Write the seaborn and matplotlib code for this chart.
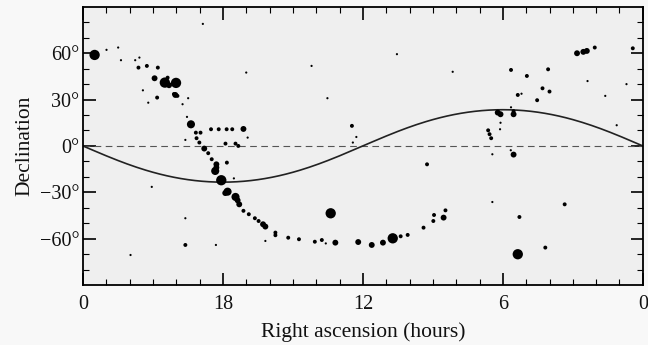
import numpy as np
import pandas as pd
import matplotlib
matplotlib.use("Agg")
import matplotlib.pyplot as plt
import seaborn as sns

# ---- data (right ascension in hours, declination in degrees, brightness class 1-5)
ra = [23.5, 22.99, 22.49, 22.37, 21.76, 21.58, 21.62, 21.26, 20.79, 20.93,
      20.49, 20.37, 20.31, 20.01, 20.04, 20.10, 19.95, 20.82, 21.43, 21.2,
      19.73, 19.49, 19.54, 19.37, 19.16, 18.96, 19.13, 19.61, 19.01, 18.8,
      18.63, 18.51, 18.18, 17.84, 17.6, 17.12, 16.94, 17.46, 17.34, 17.89,
      17.83, 18.48, 18.28, 18.33, 18.28, 18.07, 17.8, 17.9, 17.46, 17.37,
      17.3, 17.12, 16.89, 16.63, 16.47, 16.28, 16.18, 15.75, 15.75, 16.18,
      15.2, 14.74, 14.06, 13.76, 13.59, 13.18, 13.38, 12.2, 11.62, 11.14,
      10.72, 10.38, 10.08, 9.4, 8.98, 8.95, 8.54, 8.46, 12.47, 12.28,
      12.43, 9.25, 8.15, 6.45, 6.22, 6.1, 6.63, 6.57, 6.5, 6.12,
      6.1, 6.45, 5.54, 5.54, 5.65, 5.66, 5.54, 5.65, 4.97, 5.36,
      5.2, 4.3, 4.0, 4.06, 4.53, 5.29, 5.36, 4.18, 3.35, 2.82,
      2.55, 2.4, 2.06, 0.43, 2.37, 1.61, 1.12, 0.7, 17.0, 14.2,
      13.52, 18.86, 19.61, 19.61, 18.3, 21.96, 21.05, 17.53, 10.54]
dec = [58.9, 62.2, 63.7, 55.5, 55.5, 57.2, 50.7, 51.8, 50.7, 43.8,
       41.0, 44.2, 39.3, 40.8, 33.0, 33.6, 32.4, 31.3, 36.0, 28.0,
       27.0, 30.9, 18.8, 14.0, 8.6, 8.6, 5.0, 3.9, 2.2, -1.7,
       -4.7, 10.8, 10.8, 10.8, 10.8, 11.0, 5.4, 1.5, 0.0, 1.5,
       -10.8, -8.6, -11.9, -16.2, -14.0, -22.2, -29.6, -30.5, -33.0, -35.2,
       -37.8, -42.0, -44.2, -46.8, -48.6, -50.7, -52.2, -56.1, -57.8, -61.5,
       -59.4, -60.4, -62.0, -60.9, -63.1, -62.6, -43.6, -62.2, -64.1, -62.6,
       -59.8, -58.5, -57.6, -52.9, -48.6, -44.7, -46.4, -41.7, 13.0, 5.8,
       2.2, -11.9, 48.0, -36.3, 21.6, 20.5, 10.1, 7.6, 5.0, 10.8,
       15.0, -5.4, 20.5, 22.5, 25.0, -2.8, -5.6, 49.2, 45.3, 33.0,
       33.8, 37.3, 35.2, 49.6, 29.6, -46.0, -70.1, -65.8, -37.8, 60.0,
       60.9, 61.5, 63.7, 63.2, 42.0, 32.4, 13.4, 40.0, 47.5, 51.8,
       30.9, 79.0, -46.8, -64.1, -64.1, -70.6, -26.5, -21.0, 59.4]
brightness = [5, 1, 1, 1, 1, 1, 2, 2, 2, 3,
              5, 2, 3, 5, 3, 2, 2, 2, 1, 1,
              1, 1, 1, 4, 2, 2, 2, 1, 2, 3,
              2, 2, 2, 2, 2, 3, 1, 2, 2, 2,
              2, 2, 3, 4, 3, 5, 4, 3, 4, 3,
              3, 2, 2, 2, 2, 3, 3, 2, 2, 1,
              2, 2, 2, 2, 1, 3, 5, 3, 3, 3,
              5, 2, 2, 2, 2, 2, 3, 2, 2, 1,
              1, 2, 1, 1, 3, 3, 2, 2, 2, 1,
              1, 1, 3, 2, 1, 1, 3, 2, 2, 2,
              1, 2, 2, 2, 2, 2, 5, 2, 2, 3,
              3, 3, 2, 2, 1, 1, 1, 1, 1, 1,
              1, 1, 1, 2, 1, 1, 1, 1, 1]

ra_ticks = [24, 18, 12, 6, 0]
ra_ticklabels = ["0", "18", "12", "6", "0"]
dec_ticks = [60, 30, 0, -30, -60]
dec_ticklabels = ["60°", "30°", "0°", "\u221230°", "\u221260°"]

obliquity = 23.44  # degrees, ecliptic inclination

df = pd.DataFrame({"ra": ra, "dec": dec, "b": brightness})

# ecliptic curve
ecl_ra = np.linspace(0, 24, 241)
ecl_dec = np.degrees(np.arctan(np.sin(np.radians(ecl_ra * 15)) * np.tan(np.radians(obliquity))))
ecl = pd.DataFrame({"ra": ecl_ra, "dec": ecl_dec})

sns.set_style("ticks")
plt.rcParams["font.family"] = ["Liberation Serif", "DejaVu Serif"]

fig = plt.figure(figsize=(6.48, 3.45), dpi=100, facecolor="#f8f8f8")
ax = fig.add_axes([0.128, 0.174, 0.864, 0.806])
ax.set_facecolor("#efefef")

ax.axhline(0, color="#555555", lw=0.8, ls=(0, (6, 4)), zorder=1)
sns.lineplot(data=ecl, x="ra", y="dec", color="#222222", lw=1.2, ax=ax,
             sort=False, zorder=2)
sns.scatterplot(data=df, x="ra", y="dec", size="b",
                sizes={1: 2.5, 2: 8, 3: 18, 4: 34, 5: 55},
                color="black", edgecolor="none", linewidth=0, legend=False,
                ax=ax, zorder=3)

ax.set_xlim(24, 0)
ax.set_ylim(-90, 90)
ax.set_xticks(ra_ticks)
ax.set_xticklabels(ra_ticklabels)
ax.set_yticks(dec_ticks)
ax.set_yticklabels(dec_ticklabels)
ax.set_xticks(np.arange(1, 24), minor=True)
ax.set_yticks(np.arange(-80, 90, 10), minor=True)

ax.tick_params(which="both", direction="in", top=True, right=True,
               labelsize=14.5, colors="black", labelcolor="#111111")
ax.tick_params(which="major", length=9, width=1.2)
ax.tick_params(which="minor", length=4.5, width=0.8)
ax.tick_params(axis="x", which="major", pad=7)
ax.tick_params(axis="y", which="major", pad=2.5)
for s in ax.spines.values():
    s.set_linewidth(1.3)
    s.set_color("black")

ax.set_xlabel("Right ascension (hours)", fontsize=15.5, labelpad=6, color="#111111")
ax.set_ylabel("Declination", fontsize=15.5, labelpad=4, color="#111111")

fig.savefig("out.png", dpi=100, facecolor=fig.get_facecolor())
